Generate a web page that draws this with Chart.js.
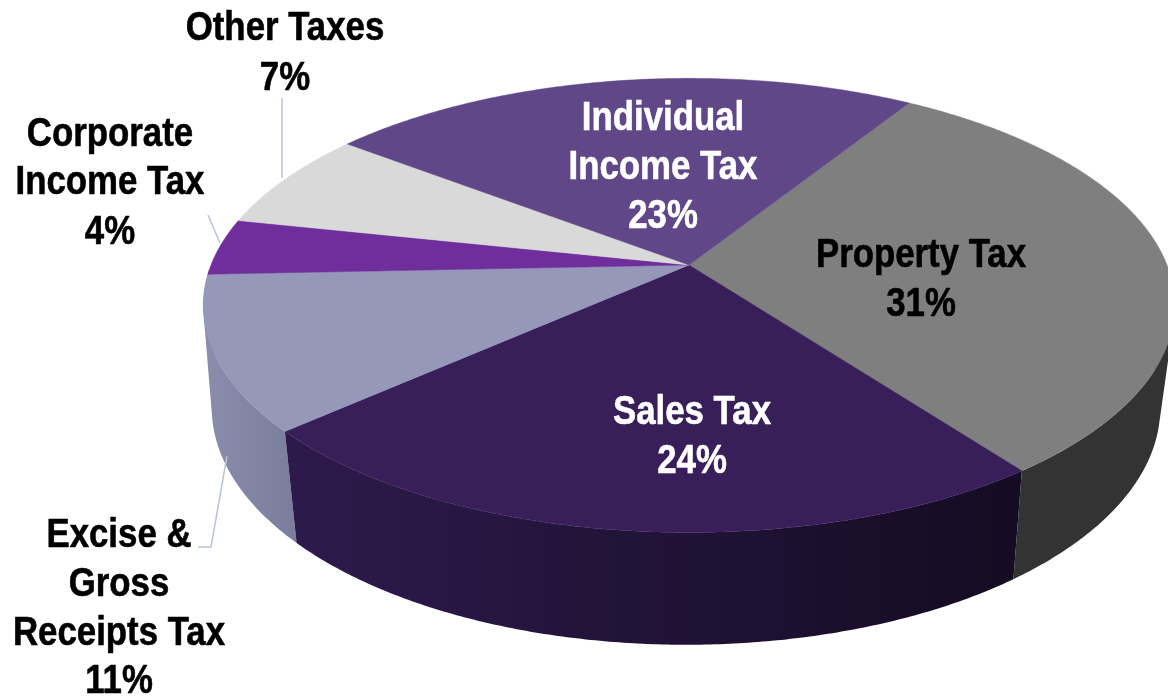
<!DOCTYPE html>
<html>
<head>
<meta charset="utf-8">
<title>Tax revenue shares</title>
<style>html,body{margin:0;padding:0;background:#fff}canvas{display:block}</style>
<script src="https://cdn.jsdelivr.net/npm/chart.js@4"></script>
</head>
<body>
<canvas id="c" width="1168" height="698"></canvas>
<script>
const categories = ["Property Tax","Sales Tax","Excise & Gross Receipts Tax","Corporate Income Tax","Other Taxes","Individual Income Tax"];
const shares = [31,24,11,4,7,23];
const faceColors = ["#7f7f7f","#381f5a","#9598b9","#6f2e9b","#d9d9d9","#5f4788"];
const wallStops = [["#333333","#333333"],["#2d1a4c","#150b22"],["#8a8cab","#7b7d9c"],["#55237a","#55237a"],["#a8a8a8","#a8a8a8"],["#483669","#483669"]];

const TILT = {p:0.178, sy:0.46, bp:0.15, bx:0.981, bdx:-3, bdy:107, bsy:0.485};
const LABELS = [
  {lines:["Property Tax"],cx:921,ys:[267,316],color:"#000"},
  {lines:["Sales Tax"],cx:692,ys:[424,473],color:"#fff"},
  {lines:["Excise &","Gross","Receipts Tax"],cx:119,ys:[547,596,645,693],color:"#000"},
  {lines:["Corporate","Income Tax"],cx:110,ys:[146,194,244],color:"#000"},
  {lines:["Other Taxes"],cx:285,ys:[40,90],color:"#000"},
  {lines:["Individual","Income Tax"],cx:663,ys:[130,179,228],color:"#fff"}
];
const LEADERS = [
  [[282,98],[282,178]],
  [[208,215],[220,243]],
  [[227,456],[211,547],[198,547]]
];

// small camera skew: the photographed pie is not viewed exactly head-on
const warp = a => a + 0.021*Math.cos(a + 0.175);
function topPt(e,a0){
  const a=warp(a0),u=Math.cos(a),v=Math.sin(a),w=1/(1-TILT.p*v);
  return [e.x+e.outerRadius*u*w, e.y+e.outerRadius*TILT.sy*v*w];
}
function botPt(e,a0){
  const a=a0-0.014,u=Math.cos(a),v=Math.sin(a),w=1/(1-TILT.bp*v);
  return [e.x+TILT.bdx+e.outerRadius*TILT.bx*u*w, e.y+TILT.bdy+e.outerRadius*TILT.bsy*v*w];
}
const pie3d = {
  id:'pie3d',
  beforeDatasetDraw(chart,args){
    const ctx=chart.ctx, arcs=chart.getDatasetMeta(args.index).data, STEP=Math.PI/360, TAU=2*Math.PI;
    // side walls first, back to front: only the front half of the rim is visible
    const spans=[];
    arcs.forEach((e,i)=>{
      for(let turn=-1;turn<=1;turn++){
        const s=Math.max(e.startAngle,turn*TAU), t=Math.min(e.endAngle,turn*TAU+Math.PI);
        if(s<t) spans.push({e,i,s,t,mid:Math.abs((s+t)/2-turn*TAU-Math.PI/2)});
      }
    });
    spans.sort((A,B)=>B.mid-A.mid);
    spans.forEach(({e,i,s,t})=>{
      const ends=[topPt(e,s),topPt(e,t),botPt(e,s),botPt(e,t)];
      const xMin=Math.min(...ends.map(p=>p[0])),xMax=Math.max(...ends.map(p=>p[0]));
      const g=ctx.createLinearGradient(xMin,0,xMax,0);
      g.addColorStop(0,wallStops[i][0]);g.addColorStop(1,wallStops[i][1]);
      ctx.fillStyle=g;
      ctx.beginPath();
      for(let a=s;a<t;a+=STEP){
        const b=Math.min(a+STEP,t);
        let q=[topPt(e,a),topPt(e,b),botPt(e,b),botPt(e,a)];
        let area=0;
        q.forEach((p,j)=>{const n=q[(j+1)%4];area+=p[0]*n[1]-n[0]*p[1];});
        if(area<0) q=q.reverse();
        q.forEach((p,j)=>j?ctx.lineTo(p[0],p[1]):ctx.moveTo(p[0],p[1]));
        ctx.closePath();
      }
      ctx.fill('nonzero');
    });
    // top faces
    arcs.forEach((e,i)=>{
      ctx.beginPath();ctx.moveTo(e.x,e.y);
      for(let a=e.startAngle;a<e.endAngle;a+=STEP){const p=topPt(e,a);ctx.lineTo(p[0],p[1]);}
      const q=topPt(e,e.endAngle);ctx.lineTo(q[0],q[1]);ctx.closePath();
      ctx.fillStyle=e.options.backgroundColor;ctx.fill();
      ctx.strokeStyle=e.options.backgroundColor;ctx.lineWidth=0.5;ctx.stroke();
    });
    return false;
  },
  afterDatasetsDraw(chart){
    const ctx=chart.ctx;
    ctx.save();
    ctx.strokeStyle="#b7c4d8";ctx.lineWidth=1.5;
    LEADERS.forEach(l=>{ctx.beginPath();l.forEach((p,j)=>j?ctx.lineTo(p[0],p[1]):ctx.moveTo(p[0],p[1]));ctx.stroke();});
    ctx.font='bold 40px "Liberation Sans"';ctx.textAlign='center';ctx.textBaseline='alphabetic';
    ctx.lineJoin='round';
    const SX=0.87;
    LABELS.forEach((l,i)=>{
      const text=l.lines.concat([shares[i]+"%"]);
      ctx.fillStyle=l.color;ctx.strokeStyle=l.color;ctx.lineWidth=0.6;
      text.forEach((t,j)=>{
        ctx.save();ctx.translate(l.cx,l.ys[j]);ctx.scale(SX,1);ctx.fillText(t,0,0);ctx.strokeText(t,0,0);ctx.restore();
      });
    });
    ctx.restore();
  }
};
new Chart(document.getElementById('c'),{
  type:'pie',
  data:{labels:categories,datasets:[{data:shares,backgroundColor:faceColors,borderWidth:0}]},
  options:{
    responsive:false,animation:false,rotation:31.2,radius:478,
    layout:{padding:{left:210,bottom:168}},
    plugins:{legend:{display:false},tooltip:{enabled:false},title:{display:false}}
  },
  plugins:[pie3d,{id:'bg',beforeDraw(c){c.ctx.fillStyle='#fff';c.ctx.fillRect(0,0,c.width,c.height);}}]
});
</script>
</body>
</html>
